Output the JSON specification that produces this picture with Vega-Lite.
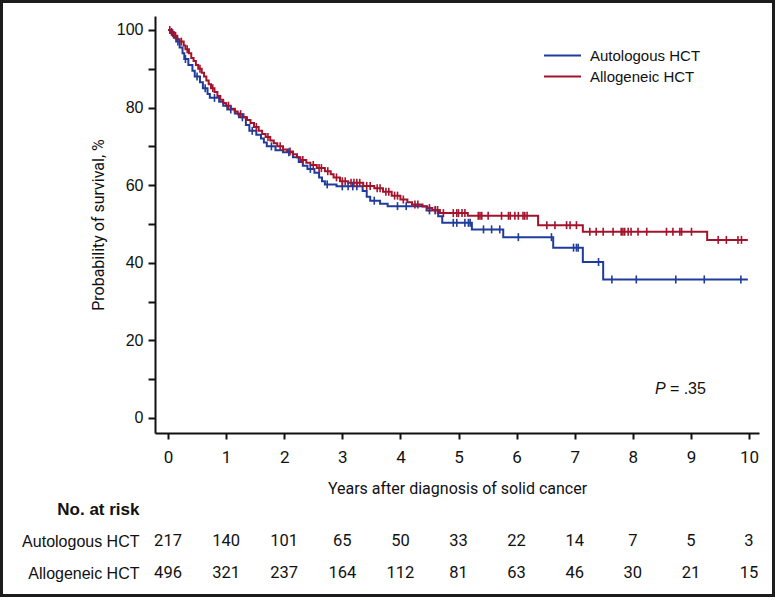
{
  "$schema": "https://vega.github.io/schema/vega-lite/v6.json",
  "width": 775,
  "height": 597,
  "autosize": {"type": "none"},
  "padding": 0,
  "background": "white",
  "config": {
    "view": {"stroke": "#1c1c1c", "strokeWidth": 6},
    "axis": {"grid": false, "domainColor": "#111", "tickColor": "#111", "domainWidth": 2, "tickWidth": 2, "labelColor": "#111", "titleColor": "#111"}
  },
  "datasets": {
    "km": [
      {"g":"Autologous HCT","t":0,"s":100,"c":0},
      {"g":"Autologous HCT","t":0.04,"s":99.5,"c":0},
      {"g":"Autologous HCT","t":0.06,"s":99.5,"c":1},
      {"g":"Autologous HCT","t":0.1,"s":98,"c":0},
      {"g":"Autologous HCT","t":0.14,"s":97,"c":0},
      {"g":"Autologous HCT","t":0.17,"s":97,"c":1},
      {"g":"Autologous HCT","t":0.2,"s":95.5,"c":0},
      {"g":"Autologous HCT","t":0.25,"s":94,"c":0},
      {"g":"Autologous HCT","t":0.28,"s":92.5,"c":0},
      {"g":"Autologous HCT","t":0.3,"s":92.5,"c":1},
      {"g":"Autologous HCT","t":0.35,"s":91,"c":0},
      {"g":"Autologous HCT","t":0.42,"s":89.5,"c":0},
      {"g":"Autologous HCT","t":0.46,"s":88,"c":0},
      {"g":"Autologous HCT","t":0.5,"s":88,"c":1},
      {"g":"Autologous HCT","t":0.55,"s":86.5,"c":0},
      {"g":"Autologous HCT","t":0.6,"s":85,"c":0},
      {"g":"Autologous HCT","t":0.64,"s":85,"c":1},
      {"g":"Autologous HCT","t":0.68,"s":83.5,"c":0},
      {"g":"Autologous HCT","t":0.72,"s":82.5,"c":0},
      {"g":"Autologous HCT","t":0.8,"s":82.5,"c":1},
      {"g":"Autologous HCT","t":0.88,"s":81.5,"c":0},
      {"g":"Autologous HCT","t":0.95,"s":80.5,"c":0},
      {"g":"Autologous HCT","t":1.02,"s":79.5,"c":0},
      {"g":"Autologous HCT","t":1.08,"s":79.5,"c":1},
      {"g":"Autologous HCT","t":1.15,"s":78.5,"c":0},
      {"g":"Autologous HCT","t":1.22,"s":77.5,"c":0},
      {"g":"Autologous HCT","t":1.28,"s":77.5,"c":1},
      {"g":"Autologous HCT","t":1.34,"s":75.5,"c":0},
      {"g":"Autologous HCT","t":1.4,"s":74,"c":0},
      {"g":"Autologous HCT","t":1.45,"s":74,"c":1},
      {"g":"Autologous HCT","t":1.52,"s":73,"c":0},
      {"g":"Autologous HCT","t":1.6,"s":72,"c":0},
      {"g":"Autologous HCT","t":1.65,"s":71,"c":0},
      {"g":"Autologous HCT","t":1.7,"s":70,"c":0},
      {"g":"Autologous HCT","t":1.78,"s":70,"c":1},
      {"g":"Autologous HCT","t":1.85,"s":69,"c":0},
      {"g":"Autologous HCT","t":1.98,"s":68.5,"c":0},
      {"g":"Autologous HCT","t":2.08,"s":68.5,"c":1},
      {"g":"Autologous HCT","t":2.15,"s":67.2,"c":0},
      {"g":"Autologous HCT","t":2.25,"s":66,"c":0},
      {"g":"Autologous HCT","t":2.32,"s":65,"c":0},
      {"g":"Autologous HCT","t":2.4,"s":64.2,"c":0},
      {"g":"Autologous HCT","t":2.45,"s":64.2,"c":1},
      {"g":"Autologous HCT","t":2.52,"s":63.2,"c":0},
      {"g":"Autologous HCT","t":2.6,"s":62,"c":0},
      {"g":"Autologous HCT","t":2.65,"s":61,"c":0},
      {"g":"Autologous HCT","t":2.7,"s":60.2,"c":0},
      {"g":"Autologous HCT","t":2.74,"s":60.2,"c":1},
      {"g":"Autologous HCT","t":2.9,"s":59.7,"c":0},
      {"g":"Autologous HCT","t":3.0,"s":59.7,"c":1},
      {"g":"Autologous HCT","t":3.1,"s":59.7,"c":1},
      {"g":"Autologous HCT","t":3.18,"s":59.7,"c":1},
      {"g":"Autologous HCT","t":3.25,"s":59.7,"c":1},
      {"g":"Autologous HCT","t":3.35,"s":58.5,"c":0},
      {"g":"Autologous HCT","t":3.42,"s":57,"c":0},
      {"g":"Autologous HCT","t":3.48,"s":56,"c":0},
      {"g":"Autologous HCT","t":3.55,"s":56,"c":1},
      {"g":"Autologous HCT","t":3.65,"s":55.2,"c":0},
      {"g":"Autologous HCT","t":3.78,"s":54.6,"c":0},
      {"g":"Autologous HCT","t":3.95,"s":54.6,"c":1},
      {"g":"Autologous HCT","t":4.1,"s":54.6,"c":1},
      {"g":"Autologous HCT","t":4.45,"s":53.5,"c":0},
      {"g":"Autologous HCT","t":4.5,"s":53.5,"c":1},
      {"g":"Autologous HCT","t":4.6,"s":53.5,"c":1},
      {"g":"Autologous HCT","t":4.65,"s":52,"c":0},
      {"g":"Autologous HCT","t":4.72,"s":50.3,"c":0},
      {"g":"Autologous HCT","t":4.91,"s":50.3,"c":1},
      {"g":"Autologous HCT","t":4.97,"s":50.3,"c":1},
      {"g":"Autologous HCT","t":5.11,"s":50.3,"c":1},
      {"g":"Autologous HCT","t":5.17,"s":50.3,"c":1},
      {"g":"Autologous HCT","t":5.2,"s":50.3,"c":1},
      {"g":"Autologous HCT","t":5.23,"s":48.6,"c":0},
      {"g":"Autologous HCT","t":5.43,"s":48.6,"c":1},
      {"g":"Autologous HCT","t":5.57,"s":48.6,"c":1},
      {"g":"Autologous HCT","t":5.71,"s":48.6,"c":1},
      {"g":"Autologous HCT","t":5.77,"s":46.6,"c":0},
      {"g":"Autologous HCT","t":6.03,"s":46.6,"c":1},
      {"g":"Autologous HCT","t":6.6,"s":46.6,"c":1},
      {"g":"Autologous HCT","t":6.63,"s":43.9,"c":0},
      {"g":"Autologous HCT","t":6.98,"s":43.9,"c":1},
      {"g":"Autologous HCT","t":7.03,"s":43.9,"c":1},
      {"g":"Autologous HCT","t":7.06,"s":43.9,"c":1},
      {"g":"Autologous HCT","t":7.14,"s":40.2,"c":0},
      {"g":"Autologous HCT","t":7.41,"s":40.2,"c":1},
      {"g":"Autologous HCT","t":7.49,"s":35.7,"c":0},
      {"g":"Autologous HCT","t":7.64,"s":35.7,"c":1},
      {"g":"Autologous HCT","t":8.06,"s":35.7,"c":1},
      {"g":"Autologous HCT","t":8.74,"s":35.7,"c":1},
      {"g":"Autologous HCT","t":9.23,"s":35.7,"c":1},
      {"g":"Autologous HCT","t":9.86,"s":35.7,"c":1},
      {"g":"Autologous HCT","t":9.98,"s":35.7,"c":0},
      {"g":"Allogeneic HCT","t":0,"s":100,"c":0},
      {"g":"Allogeneic HCT","t":0.03,"s":100,"c":1},
      {"g":"Allogeneic HCT","t":0.05,"s":99.2,"c":0},
      {"g":"Allogeneic HCT","t":0.08,"s":99.2,"c":1},
      {"g":"Allogeneic HCT","t":0.1,"s":98.5,"c":0},
      {"g":"Allogeneic HCT","t":0.13,"s":98.5,"c":1},
      {"g":"Allogeneic HCT","t":0.16,"s":97.6,"c":0},
      {"g":"Allogeneic HCT","t":0.2,"s":97,"c":0},
      {"g":"Allogeneic HCT","t":0.23,"s":97,"c":1},
      {"g":"Allogeneic HCT","t":0.27,"s":96,"c":0},
      {"g":"Allogeneic HCT","t":0.3,"s":95,"c":0},
      {"g":"Allogeneic HCT","t":0.33,"s":95,"c":1},
      {"g":"Allogeneic HCT","t":0.36,"s":94,"c":0},
      {"g":"Allogeneic HCT","t":0.4,"s":92.8,"c":0},
      {"g":"Allogeneic HCT","t":0.44,"s":92,"c":0},
      {"g":"Allogeneic HCT","t":0.48,"s":91,"c":0},
      {"g":"Allogeneic HCT","t":0.52,"s":90,"c":0},
      {"g":"Allogeneic HCT","t":0.55,"s":90,"c":1},
      {"g":"Allogeneic HCT","t":0.58,"s":89,"c":0},
      {"g":"Allogeneic HCT","t":0.62,"s":88,"c":0},
      {"g":"Allogeneic HCT","t":0.66,"s":87,"c":0},
      {"g":"Allogeneic HCT","t":0.7,"s":86,"c":0},
      {"g":"Allogeneic HCT","t":0.74,"s":85,"c":0},
      {"g":"Allogeneic HCT","t":0.77,"s":85,"c":1},
      {"g":"Allogeneic HCT","t":0.8,"s":84,"c":0},
      {"g":"Allogeneic HCT","t":0.85,"s":83,"c":0},
      {"g":"Allogeneic HCT","t":0.9,"s":82,"c":0},
      {"g":"Allogeneic HCT","t":0.95,"s":81.2,"c":0},
      {"g":"Allogeneic HCT","t":1.0,"s":80.5,"c":0},
      {"g":"Allogeneic HCT","t":1.04,"s":80.5,"c":1},
      {"g":"Allogeneic HCT","t":1.08,"s":79.7,"c":0},
      {"g":"Allogeneic HCT","t":1.15,"s":79,"c":0},
      {"g":"Allogeneic HCT","t":1.2,"s":78.3,"c":0},
      {"g":"Allogeneic HCT","t":1.25,"s":78.3,"c":1},
      {"g":"Allogeneic HCT","t":1.3,"s":77.5,"c":0},
      {"g":"Allogeneic HCT","t":1.36,"s":76.8,"c":0},
      {"g":"Allogeneic HCT","t":1.42,"s":76,"c":0},
      {"g":"Allogeneic HCT","t":1.48,"s":75,"c":0},
      {"g":"Allogeneic HCT","t":1.52,"s":75,"c":1},
      {"g":"Allogeneic HCT","t":1.56,"s":74,"c":0},
      {"g":"Allogeneic HCT","t":1.62,"s":73.2,"c":0},
      {"g":"Allogeneic HCT","t":1.68,"s":72.4,"c":0},
      {"g":"Allogeneic HCT","t":1.72,"s":72.4,"c":1},
      {"g":"Allogeneic HCT","t":1.76,"s":71.5,"c":0},
      {"g":"Allogeneic HCT","t":1.82,"s":70.8,"c":0},
      {"g":"Allogeneic HCT","t":1.88,"s":70,"c":0},
      {"g":"Allogeneic HCT","t":1.93,"s":70,"c":1},
      {"g":"Allogeneic HCT","t":1.98,"s":69.2,"c":0},
      {"g":"Allogeneic HCT","t":2.05,"s":68.7,"c":0},
      {"g":"Allogeneic HCT","t":2.1,"s":68.7,"c":1},
      {"g":"Allogeneic HCT","t":2.15,"s":68,"c":0},
      {"g":"Allogeneic HCT","t":2.22,"s":67.2,"c":0},
      {"g":"Allogeneic HCT","t":2.28,"s":66.5,"c":0},
      {"g":"Allogeneic HCT","t":2.32,"s":66.5,"c":1},
      {"g":"Allogeneic HCT","t":2.38,"s":65.8,"c":0},
      {"g":"Allogeneic HCT","t":2.45,"s":65.2,"c":0},
      {"g":"Allogeneic HCT","t":2.5,"s":65.2,"c":1},
      {"g":"Allogeneic HCT","t":2.56,"s":64.4,"c":0},
      {"g":"Allogeneic HCT","t":2.6,"s":64.4,"c":1},
      {"g":"Allogeneic HCT","t":2.64,"s":64.4,"c":1},
      {"g":"Allogeneic HCT","t":2.7,"s":63.6,"c":0},
      {"g":"Allogeneic HCT","t":2.75,"s":63.6,"c":1},
      {"g":"Allogeneic HCT","t":2.8,"s":62.8,"c":0},
      {"g":"Allogeneic HCT","t":2.85,"s":62,"c":0},
      {"g":"Allogeneic HCT","t":2.9,"s":62,"c":1},
      {"g":"Allogeneic HCT","t":2.96,"s":61,"c":0},
      {"g":"Allogeneic HCT","t":3.0,"s":61,"c":1},
      {"g":"Allogeneic HCT","t":3.05,"s":61,"c":1},
      {"g":"Allogeneic HCT","t":3.1,"s":60.6,"c":0},
      {"g":"Allogeneic HCT","t":3.15,"s":60.6,"c":1},
      {"g":"Allogeneic HCT","t":3.2,"s":60.6,"c":1},
      {"g":"Allogeneic HCT","t":3.25,"s":60.6,"c":1},
      {"g":"Allogeneic HCT","t":3.3,"s":60.6,"c":1},
      {"g":"Allogeneic HCT","t":3.36,"s":59.8,"c":0},
      {"g":"Allogeneic HCT","t":3.42,"s":59.8,"c":1},
      {"g":"Allogeneic HCT","t":3.48,"s":59.8,"c":1},
      {"g":"Allogeneic HCT","t":3.55,"s":59.2,"c":0},
      {"g":"Allogeneic HCT","t":3.6,"s":59.2,"c":1},
      {"g":"Allogeneic HCT","t":3.65,"s":59.2,"c":1},
      {"g":"Allogeneic HCT","t":3.7,"s":58.3,"c":0},
      {"g":"Allogeneic HCT","t":3.75,"s":58.3,"c":1},
      {"g":"Allogeneic HCT","t":3.8,"s":58.3,"c":1},
      {"g":"Allogeneic HCT","t":3.85,"s":57.3,"c":0},
      {"g":"Allogeneic HCT","t":3.9,"s":57.3,"c":1},
      {"g":"Allogeneic HCT","t":3.95,"s":57.3,"c":1},
      {"g":"Allogeneic HCT","t":4.0,"s":56.3,"c":0},
      {"g":"Allogeneic HCT","t":4.05,"s":56.3,"c":1},
      {"g":"Allogeneic HCT","t":4.12,"s":55.6,"c":0},
      {"g":"Allogeneic HCT","t":4.2,"s":55,"c":0},
      {"g":"Allogeneic HCT","t":4.25,"s":55,"c":1},
      {"g":"Allogeneic HCT","t":4.3,"s":55,"c":1},
      {"g":"Allogeneic HCT","t":4.38,"s":54.5,"c":0},
      {"g":"Allogeneic HCT","t":4.46,"s":54.1,"c":0},
      {"g":"Allogeneic HCT","t":4.5,"s":54.1,"c":1},
      {"g":"Allogeneic HCT","t":4.55,"s":53.6,"c":0},
      {"g":"Allogeneic HCT","t":4.6,"s":53.6,"c":1},
      {"g":"Allogeneic HCT","t":4.64,"s":53.6,"c":1},
      {"g":"Allogeneic HCT","t":4.68,"s":52.8,"c":0},
      {"g":"Allogeneic HCT","t":4.74,"s":52.8,"c":1},
      {"g":"Allogeneic HCT","t":4.91,"s":52.8,"c":1},
      {"g":"Allogeneic HCT","t":4.97,"s":52.8,"c":1},
      {"g":"Allogeneic HCT","t":5.0,"s":52.8,"c":1},
      {"g":"Allogeneic HCT","t":5.06,"s":52.8,"c":1},
      {"g":"Allogeneic HCT","t":5.11,"s":52.8,"c":1},
      {"g":"Allogeneic HCT","t":5.16,"s":52.1,"c":0},
      {"g":"Allogeneic HCT","t":5.34,"s":52.1,"c":1},
      {"g":"Allogeneic HCT","t":5.37,"s":52.1,"c":1},
      {"g":"Allogeneic HCT","t":5.4,"s":52.1,"c":1},
      {"g":"Allogeneic HCT","t":5.51,"s":52.1,"c":1},
      {"g":"Allogeneic HCT","t":5.74,"s":52.1,"c":1},
      {"g":"Allogeneic HCT","t":5.86,"s":52.1,"c":1},
      {"g":"Allogeneic HCT","t":5.89,"s":52.1,"c":1},
      {"g":"Allogeneic HCT","t":5.97,"s":52.1,"c":1},
      {"g":"Allogeneic HCT","t":6.03,"s":52.1,"c":1},
      {"g":"Allogeneic HCT","t":6.11,"s":52.1,"c":1},
      {"g":"Allogeneic HCT","t":6.14,"s":52.1,"c":1},
      {"g":"Allogeneic HCT","t":6.18,"s":52.1,"c":1},
      {"g":"Allogeneic HCT","t":6.37,"s":49.7,"c":0},
      {"g":"Allogeneic HCT","t":6.52,"s":49.7,"c":1},
      {"g":"Allogeneic HCT","t":6.66,"s":49.7,"c":1},
      {"g":"Allogeneic HCT","t":6.86,"s":49.7,"c":1},
      {"g":"Allogeneic HCT","t":6.92,"s":49.7,"c":1},
      {"g":"Allogeneic HCT","t":7.03,"s":49.7,"c":1},
      {"g":"Allogeneic HCT","t":7.14,"s":48,"c":0},
      {"g":"Allogeneic HCT","t":7.26,"s":48,"c":1},
      {"g":"Allogeneic HCT","t":7.37,"s":48,"c":1},
      {"g":"Allogeneic HCT","t":7.49,"s":48,"c":1},
      {"g":"Allogeneic HCT","t":7.66,"s":48,"c":1},
      {"g":"Allogeneic HCT","t":7.8,"s":48,"c":1},
      {"g":"Allogeneic HCT","t":7.83,"s":48,"c":1},
      {"g":"Allogeneic HCT","t":7.86,"s":48,"c":1},
      {"g":"Allogeneic HCT","t":7.92,"s":48,"c":1},
      {"g":"Allogeneic HCT","t":7.97,"s":48,"c":1},
      {"g":"Allogeneic HCT","t":8.09,"s":48,"c":1},
      {"g":"Allogeneic HCT","t":8.24,"s":48,"c":1},
      {"g":"Allogeneic HCT","t":8.58,"s":48,"c":1},
      {"g":"Allogeneic HCT","t":8.69,"s":48,"c":1},
      {"g":"Allogeneic HCT","t":8.81,"s":48,"c":1},
      {"g":"Allogeneic HCT","t":8.84,"s":48,"c":1},
      {"g":"Allogeneic HCT","t":9.01,"s":48,"c":1},
      {"g":"Allogeneic HCT","t":9.28,"s":45.9,"c":0},
      {"g":"Allogeneic HCT","t":9.47,"s":45.9,"c":1},
      {"g":"Allogeneic HCT","t":9.61,"s":45.9,"c":1},
      {"g":"Allogeneic HCT","t":9.81,"s":45.9,"c":1},
      {"g":"Allogeneic HCT","t":9.87,"s":45.9,"c":1},
      {"g":"Allogeneic HCT","t":9.98,"s":45.9,"c":0}
    ],
    "risk": [
      {"g":"Autologous HCT","t":0,"n":217},{"g":"Autologous HCT","t":1,"n":140},{"g":"Autologous HCT","t":2,"n":101},{"g":"Autologous HCT","t":3,"n":65},{"g":"Autologous HCT","t":4,"n":50},{"g":"Autologous HCT","t":5,"n":33},{"g":"Autologous HCT","t":6,"n":22},{"g":"Autologous HCT","t":7,"n":14},{"g":"Autologous HCT","t":8,"n":7},{"g":"Autologous HCT","t":9,"n":5},{"g":"Autologous HCT","t":10,"n":3},
      {"g":"Allogeneic HCT","t":0,"n":496},{"g":"Allogeneic HCT","t":1,"n":321},{"g":"Allogeneic HCT","t":2,"n":237},{"g":"Allogeneic HCT","t":3,"n":164},{"g":"Allogeneic HCT","t":4,"n":112},{"g":"Allogeneic HCT","t":5,"n":81},{"g":"Allogeneic HCT","t":6,"n":63},{"g":"Allogeneic HCT","t":7,"n":46},{"g":"Allogeneic HCT","t":8,"n":30},{"g":"Allogeneic HCT","t":9,"n":21},{"g":"Allogeneic HCT","t":10,"n":15}
    ]
  },
  "layer": [
    {
      "layer": [
        {
          "data": {"name": "km"},
          "mark": {"type": "line", "interpolate": "step-after", "strokeWidth": 2},
          "encoding": {
            "x": {"field": "t", "type": "quantitative",
              "scale": {"domain": [-0.224, 10.172], "range": [155, 759], "nice": false, "zero": false},
              "axis": {"values": [0,1,2,3,4,5,6,7,8,9,10], "format": "d", "title": "Years after diagnosis of solid cancer", "orient": "bottom", "offset": -164, "tickSize": 6, "labelFont": "Roboto", "labelFontSize": 17, "labelPadding": 10, "labelFlush": false, "titleFont": "Roboto", "titleFontSize": 16, "titleFontWeight": "normal", "titlePadding": 15}},
            "y": {"field": "s", "type": "quantitative",
              "scale": {"domain": [-3.87, 103.6], "range": [433, 16], "nice": false, "zero": false},
              "axis": {"values": [0,10,20,30,40,50,60,70,80,90,100], "labelExpr": "datum.value % 20 === 0 ? datum.label : ''", "title": "Probability of survival, %", "orient": "left", "offset": -155, "tickSize": 7, "labelFont": "Liberation Sans", "labelFontSize": 16, "labelPadding": 5, "titleFont": "Roboto", "titleFontSize": 16, "titleFontWeight": "normal", "titlePadding": 10}},
            "color": {"field": "g", "type": "nominal",
              "scale": {"domain": ["Autologous HCT", "Allogeneic HCT"], "range": ["#1f3c9c", "#a3142c"]},
              "legend": {"orient": "none", "legendX": 555, "legendY": 48, "title": null, "symbolType": "M-3,0H3", "symbolSize": 152, "symbolStrokeWidth": 2, "labelFont": "Liberation Sans", "labelFontSize": 15, "labelOffset": 20, "rowPadding": 5, "padding": 0, "labelColor": "#111"}},
            "order": {"field": "t", "type": "quantitative"}
          }
        },
        {
          "data": {"name": "km"},
          "transform": [{"filter": "datum.c === 1"}],
          "mark": {"type": "point", "shape": "M0,-1V1", "size": 64, "strokeWidth": 1.6, "filled": false, "opacity": 1},
          "encoding": {
            "x": {"field": "t", "type": "quantitative"},
            "y": {"field": "s", "type": "quantitative"},
            "stroke": {"field": "g", "type": "nominal",
              "scale": {"domain": ["Autologous HCT", "Allogeneic HCT"], "range": ["#1f3c9c", "#a3142c"]},
              "legend": null}
          }
        },
        {
          "data": {"values": [{}]},
          "mark": {"type": "text", "text": "P", "fontStyle": "italic", "font": "Liberation Sans", "fontSize": 16, "align": "left", "baseline": "alphabetic", "color": "#111"},
          "encoding": {"x": {"datum": 8.38, "type": "quantitative"}, "y": {"datum": 6.2, "type": "quantitative"}}
        },
        {
          "data": {"values": [{}]},
          "mark": {"type": "text", "text": "= .35", "font": "Liberation Sans", "fontSize": 16, "align": "left", "baseline": "alphabetic", "dx": 15, "color": "#111"},
          "encoding": {"x": {"datum": 8.38, "type": "quantitative"}, "y": {"datum": 6.2, "type": "quantitative"}}
        }
      ]
    },
    {
      "data": {"name": "risk"},
      "mark": {"type": "text", "font": "Roboto", "fontSize": 16.5, "baseline": "middle", "align": "center", "color": "#111"},
      "encoding": {
        "x": {"field": "t", "type": "quantitative"},
        "y": {"field": "g", "type": "ordinal",
          "scale": {"type": "point", "domain": ["No. at risk", "Autologous HCT", "Allogeneic HCT"], "range": [509, 573], "padding": 0},
          "axis": {"orient": "left", "offset": -150, "ticks": false, "domain": false, "labelPadding": 11, "labelAlign": "right", "labelFont": "Liberation Sans", "labelFontSize": {"condition": {"test": "datum.value === 'No. at risk'", "value": 17}, "value": 16}, "labelFontWeight": {"condition": {"test": "datum.value === 'No. at risk'", "value": "bold"}, "value": "normal"}, "title": null}},
        "text": {"field": "n", "type": "quantitative"}
      }
    }
  ],
  "resolve": {"scale": {"y": "independent"}, "axis": {"y": "independent"}}
}
